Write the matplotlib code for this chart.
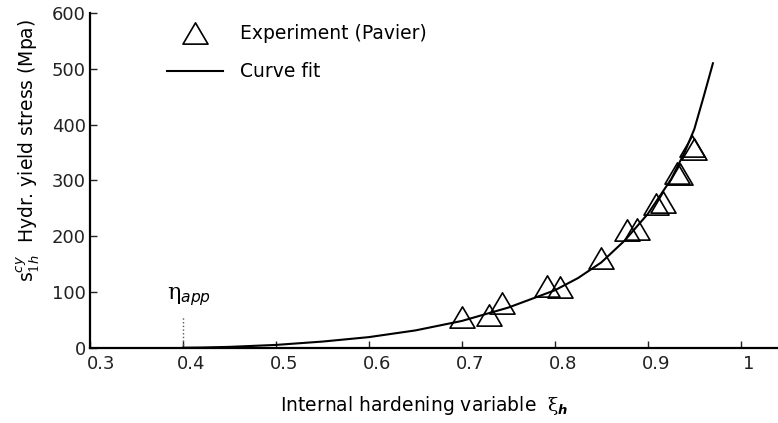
import matplotlib
matplotlib.use("Agg")
import matplotlib.pyplot as plt
import matplotlib.transforms as mtransforms
from matplotlib.path import Path

plt.rcParams['font.family'] = ['DejaVu Sans']
plt.rcParams['mathtext.fontset'] = 'custom'
plt.rcParams['mathtext.rm'] = 'DejaVu Serif'
plt.rcParams['mathtext.sf'] = 'DejaVu Sans'
plt.rcParams['mathtext.it'] = 'DejaVu Sans:italic'
plt.rcParams['mathtext.bf'] = 'DejaVu Sans:italic:bold'

# Data: experiment (Pavier)
exp_x = [0.700, 0.729, 0.743, 0.792, 0.805, 0.850, 0.878, 0.888,
         0.909, 0.916, 0.931, 0.935, 0.948, 0.950]
exp_y = [55, 58, 80, 111, 109, 161, 211, 213,
         258, 262, 314, 311, 362, 356]

# Data: curve fit
fit_x = [0.40, 0.42, 0.45, 0.50, 0.55, 0.60, 0.65, 0.70, 0.75, 0.80,
         0.825, 0.85, 0.875, 0.90, 0.925, 0.94, 0.95, 0.96, 0.97]
fit_y = [0, 0.3, 1.5, 5, 11, 19, 31, 48, 72, 103,
         125, 153, 192, 240, 302, 352, 392, 450, 510]

eta_app = 0.40
xticks = [0.3, 0.4, 0.5, 0.6, 0.7, 0.8, 0.9, 1.0]
xticklabels = ['0.3', '0.4', '0.5', '0.6', '0.7', '0.8', '0.9', '1']
yticks = [0, 100, 200, 300, 400, 500, 600]

fig = plt.figure(figsize=(7.78, 4.23), dpi=100)
ax = fig.add_axes([0.1157, 0.178, 0.8843, 0.791])

# open triangle, a bit flatter than matplotlib's '^'
tri = Path([(0, 0.85), (-1, -0.85), (1, -0.85), (0, 0.85)], closed=True)
ax.plot(exp_x, exp_y, linestyle='none', marker=tri, markersize=18,
        markerfacecolor='none', markeredgecolor='black', markeredgewidth=1.2,
        label='Experiment (Pavier)', zorder=3)
ax.plot(fit_x, fit_y, color='black', linewidth=1.5, label='Curve fit', zorder=2)

# eta_app marker
ax.plot([eta_app, eta_app], [5, 55], color='#555555', linestyle=':', linewidth=1.0)
ax.text(eta_app + 0.006, 91, r'$\mathrm{\eta}_{app}$', ha='center', va='center', fontsize=16)

ax.set_xlim(0.3, 1.04)
ax.set_ylim(0, 600)
ax.set_xticks(xticks)
ax.set_xticklabels(xticklabels)
ax.set_yticks(yticks)

for s in ['top', 'right']:
    ax.spines[s].set_visible(False)
for s in ['left', 'bottom']:
    ax.spines[s].set_linewidth(1.6)
ax.tick_params(direction='in', length=5, width=1.0, labelsize=13, pad=5, colors='#222222')
ax.tick_params(axis='y', pad=3)

# tick labels sit a little right of their ticks in the original
for i, lab in enumerate(ax.get_xticklabels()):
    dx = 11 if i == 0 else 8
    lab.set_transform(lab.get_transform() +
                      mtransforms.ScaledTranslation(dx / 100, 0, fig.dpi_scale_trans))

ax.set_xlabel(r'Internal hardening variable  $\mathrm{\xi}_{\mathbf{h}}$', fontsize=13.5)
ax.xaxis.set_label_coords(0.486, -0.138)
fig.text(28 / 778, 1 - 150 / 423, r'$\mathsf{s}^{cy}_{1h}$  Hydr. yield stress (Mpa)',
         rotation=90, ha='center', va='center', fontsize=13.5)

ax.legend(loc='upper left', bbox_to_anchor=(0.095, 1.0), frameon=False, fontsize=13.5,
          handlelength=3.0, handletextpad=0.9, labelspacing=1.0, borderaxespad=0.2)

fig.savefig('out.png', dpi=100)
